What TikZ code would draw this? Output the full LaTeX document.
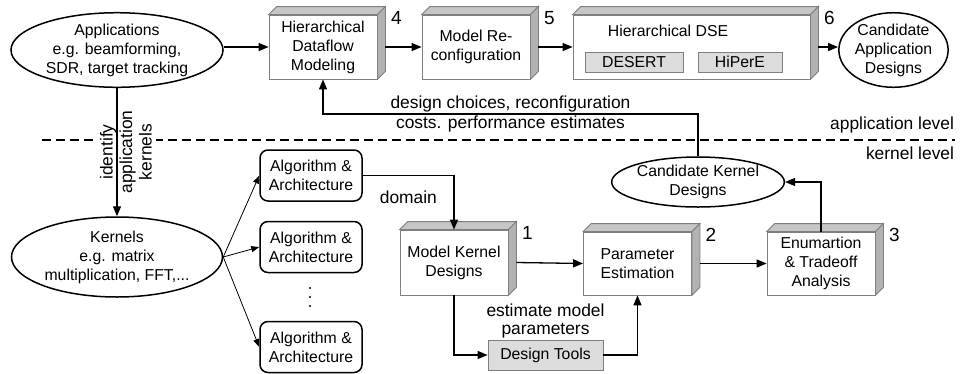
\documentclass[tikz,border=0pt]{standalone}
\usepackage{fontspec}
\setmainfont{Liberation Sans}
\usetikzlibrary{shapes.geometric,arrows.meta,positioning}
\definecolor{edgegray}{HTML}{7F7F7F}
\definecolor{topgray}{HTML}{C6C6C6}
\definecolor{sidegray}{HTML}{B2B2B2}
\definecolor{boxgray}{HTML}{DCDCDC}
\begin{document}
\begin{tikzpicture}[x=1pt, y=-1pt,
          font=\fontsize{15.8}{19}\selectfont,
          line width=1.3pt,
          >={Triangle[length=10pt,width=8pt]},
          every node/.style = {align=center},
          lbl/.style        = {font=\fontsize{17.4}{19.5}\selectfont},
          ell/.style        = {ellipse,
                              draw,
                              line width = 1.5pt,
                              inner sep  = 0pt},
          cube/.style       = {draw           = edgegray,
                              line width     = 0.8pt,
                              fill           = white,
                              minimum width  = 108pt,
                              minimum height = 64pt,
                              inner sep      = 0pt},
          face/.style       = {draw       = edgegray,
                              line width = 0.8pt},
          kernelbox/.style  = {draw,
                              rounded corners = 8pt,
                              line width      = 1.5pt,
                              minimum width   = 102pt,
                              minimum height  = 51pt,
                              inner sep       = 0pt},
          toolbox/.style    = {draw           = edgegray,
                              line width     = 0.8pt,
                              fill           = boxgray,
                              minimum height = 20pt,
                              inner sep      = 0pt},
          fanout/.style     = {->,
                              line width = 0.8pt,
                              >={Triangle[length=8pt,width=6pt]}}]
  \useasboundingbox (0,0) rectangle (962,373);

  \node[ell, minimum width=212pt, minimum height=71pt] (apps) at (117,50)
        {Applications\\e.g. beamforming,\\SDR, target tracking};
  \node[cube] (hdm) at (323,47) {Hierarchical\\Dataflow\\Modeling};
  \node[cube] (mrc) at (476,47) {Model Re-\\configuration};
  \node[cube, minimum width=237pt] (dse) at (691.5,47) {};
  \node (dsetitle) at (668,31) {Hierarchical DSE};
  \node[toolbox, minimum width=98pt] (desert) at (634,62) {DESERT};
  \node[toolbox, minimum width=84pt] (hipere) at (740,62) {HiPerE};
  \node[ell, minimum width=107pt, minimum height=70pt] (cad) at (893.5,50)
        {Candidate\\Application\\Designs};

  \node[ell, minimum width=211pt, minimum height=80pt] (ker) at (117,257)
        {Kernels\\e.g. matrix\\multiplication, FFT,...};
  \node[kernelbox] (aa1) at (311,175.5) {Algorithm \&\\Architecture};
  \node[kernelbox] (aa2) at (311,247)   {Algorithm \&\\Architecture};
  \node[kernelbox] (aa3) at (311,347)   {Algorithm \&\\Architecture};
  \coordinate (dots) at (310,297);
  \foreach \d in {-9,0,9}
    \fill (dots) ++(0,\d) circle (1.1pt);

  \node[cube, minimum height=65pt] (mkd) at (454,262.5) {Model Kernel\\Designs};
  \node[cube, minimum height=63pt] (pe)  at (637.5,263.5) {Parameter\\Estimation};
  \node[cube, minimum height=63pt] (ea)  at (821,263.5) {Enumartion\\\& Tradeoff\\Analysis};
  \node[ell, minimum width=167pt, minimum height=50pt] (ckd) at (698,182)
        {Candidate Kernel\\Designs};
  \node[toolbox, minimum width=115pt, minimum height=30pt] (dt) at (545.5,355) {Design Tools};
  \node[lbl, above=-2pt of dt, font=\fontsize{17.4}{17.5}\selectfont] (estlbl)
        {estimate model\\parameters};

  \foreach \n/\k in {hdm/4, mrc/5, dse/6, mkd/1, pe/2, ea/3} {
    \draw[face, fill=topgray] (\n.north west) -- ++(8pt,8pt)
          -- ([shift={(8pt,8pt)}]\n.north east) -- (\n.north east) -- cycle;
    \draw[face, fill=sidegray] (\n.north east) -- ++(8pt,8pt)
          -- ([shift={(8pt,8pt)}]\n.south east) -- (\n.south east) -- cycle;
    \node[font=\fontsize{19}{22}\selectfont] (num\k)
          at ([shift={(19pt,-3pt)}]\n.north east) {\k};
  }

  \draw[dashed, dash pattern=on 9pt off 5pt] (42,140) -- (955,140);
  \node[lbl, anchor=east] (applvl) at (958,125) {application level};
  \node[lbl, anchor=east] (kerlvl) at (958,153) {kernel level};
  \node[lbl, rotate=90, fill=white, inner sep=4pt] (idlbl) at (126,152)
        {identify\\application\\kernels};

  \draw[->] (apps.south) -- (ker.north);
  \draw[->] (apps.east |- hdm.west) -- (hdm.west);
  \draw[->] ([xshift=8pt]hdm.east) -- (mrc.west);
  \draw[->] ([xshift=8pt]mrc.east) -- (dse.west);
  \draw[->] ([xshift=8pt]dse.east) -- (cad.west |- dse.east);

  \coordinate (fb) at (0,114);
  \draw[->] (ckd.north) -- (ckd.north |- fb)
        -- node[lbl, above, inner sep=1.5pt] (dclbl) {design choices, reconfiguration}
           node[lbl, below, inner sep=1.5pt] (cplbl) {costs. performance estimates}
           (hdm.south |- fb) -- (hdm.south);

  \foreach \a in {aa1,aa2,aa3}
    \draw[fanout] (ker.east) -- (\a.west);

  \draw[->] (aa1.east) -| node[lbl, pos=0.25, below=11pt] (domlbl) {domain} (mkd.north);
  \draw[->] ([xshift=8pt]mkd.east) -- (pe.west);
  \draw[->] ([xshift=8pt]pe.east) -- (ea.west);
  \draw[->] (ea.north) |- (ckd.east);
  \draw[->] (mkd.south) |- (dt.west);
  \draw[->] (dt.east) -| (pe.south);
\end{tikzpicture}
\end{document}
